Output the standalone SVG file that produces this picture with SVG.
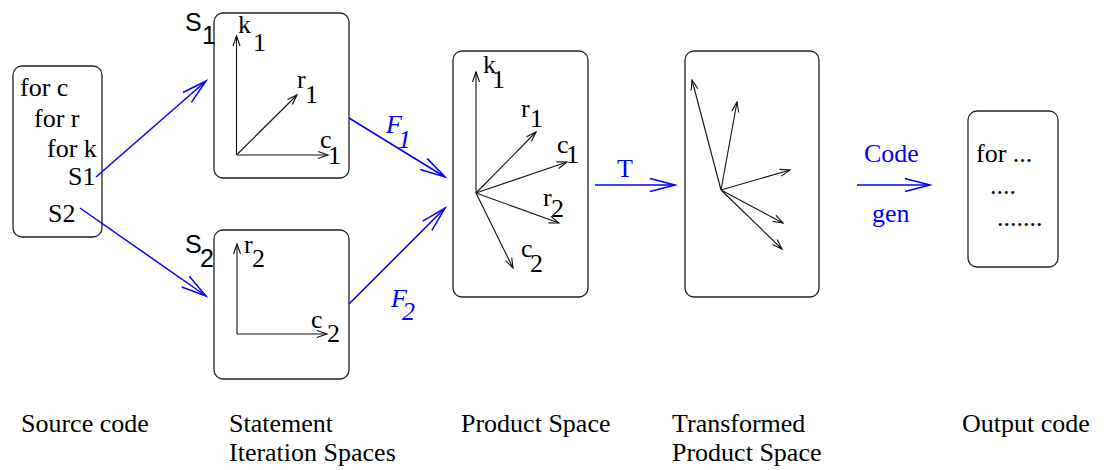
<svg xmlns="http://www.w3.org/2000/svg" width="1107" height="470" viewBox="0 0 1107 470">
  <style>
    .box { fill: none; stroke: #222; stroke-width: 1.3; }
    .t { font-family: "Liberation Serif", "Times New Roman", serif; font-size: 26px; fill: #000; }
    .s { font-family: "Liberation Sans", Arial, sans-serif; font-size: 25px; fill: #000; }
    .blue { fill: #0000ff; }
    .it { font-style: italic; }
    .ax { stroke: #111; stroke-width: 1.1; fill: none; marker-end: url(#ah); }
    .link { stroke: #0000ff; stroke-width: 1.5; fill: none; marker-end: url(#bh); }
  </style>
  <defs>
    <marker id="bh" markerUnits="userSpaceOnUse" viewBox="-28 -9 30 18" markerWidth="30" markerHeight="18" refX="0" refY="0" orient="auto" overflow="visible">
      <path d="M-25,-6.5 L0,0 L-25,6.5" fill="none" stroke="#0000ff" stroke-width="1.5"/>
    </marker>
    <marker id="ah" markerUnits="userSpaceOnUse" viewBox="-12 -5 14 10" markerWidth="14" markerHeight="10" refX="0" refY="0" orient="auto" overflow="visible">
      <path d="M-10,-3.5 L0,0 L-10,3.5" fill="none" stroke="#111" stroke-width="1.1"/>
    </marker>
  </defs>

  <!-- Source code -->
  <g id="source">
    <rect class="box" x="13" y="66" width="89" height="171" rx="9"/>
    <text class="t" x="20" y="96">for c</text>
    <text class="t" x="34" y="127">for r</text>
    <text class="t" x="47" y="157">for k</text>
    <text class="t" x="68" y="185">S1</text>
    <text class="t" x="48" y="222">S2</text>
  </g>

  <!-- Iteration space of S1 -->
  <g id="space-s1">
    <rect class="box" x="214" y="13" width="135" height="165" rx="9"/>
    <text class="s" x="185" y="31">S</text>
    <text class="s" x="202" y="44">1</text>
    <line class="ax" x1="236.5" y1="155" x2="236.5" y2="36"/>
    <line class="ax" x1="236.5" y1="155" x2="328" y2="155"/>
    <line class="ax" x1="236.5" y1="155" x2="297" y2="95"/>
    <text class="t" x="238" y="33">k</text>
    <text class="t" x="253" y="51">1</text>
    <text class="t" x="297" y="88">r</text>
    <text class="t" x="305" y="103">1</text>
    <text class="t" x="320" y="148">c</text>
    <text class="t" x="328" y="164">1</text>
  </g>

  <!-- Iteration space of S2 -->
  <g id="space-s2">
    <rect class="box" x="214" y="230" width="135" height="149" rx="9"/>
    <text class="s" x="185" y="253">S</text>
    <text class="s" x="200" y="267">2</text>
    <line class="ax" x1="237" y1="334" x2="237" y2="244"/>
    <line class="ax" x1="237" y1="334" x2="327" y2="334"/>
    <text class="t" x="244" y="253">r</text>
    <text class="t" x="252" y="267">2</text>
    <text class="t" x="311" y="328">c</text>
    <text class="t" x="327" y="342">2</text>
  </g>

  <!-- Product space -->
  <g id="product-space">
    <rect class="box" x="453" y="51" width="135" height="246" rx="9"/>
    <line class="ax" x1="476" y1="193" x2="476" y2="72"/>
    <line class="ax" x1="476" y1="193" x2="536" y2="132"/>
    <line class="ax" x1="476" y1="193" x2="567" y2="162"/>
    <line class="ax" x1="476" y1="193" x2="559" y2="223"/>
    <line class="ax" x1="476" y1="193" x2="513" y2="268"/>
    <text class="t" x="483" y="73">k</text>
    <text class="t" x="492" y="88">1</text>
    <text class="t" x="521" y="117">r</text>
    <text class="t" x="530" y="127">1</text>
    <text class="t" x="557" y="153">c</text>
    <text class="t" x="566" y="163">1</text>
    <text class="t" x="543" y="206">r</text>
    <text class="t" x="551" y="217">2</text>
    <text class="t" x="521" y="257">c</text>
    <text class="t" x="530" y="272">2</text>
  </g>

  <!-- Transformed product space -->
  <g id="transformed-space">
    <rect class="box" x="685" y="51" width="134" height="246" rx="9"/>
    <line class="ax" x1="721" y1="190" x2="692" y2="80"/>
    <line class="ax" x1="721" y1="190" x2="737" y2="102"/>
    <line class="ax" x1="721" y1="190" x2="790" y2="170"/>
    <line class="ax" x1="721" y1="190" x2="783" y2="223"/>
    <line class="ax" x1="721" y1="190" x2="782" y2="249"/>
  </g>

  <!-- Output code -->
  <g id="output">
    <rect class="box" x="968" y="111" width="90" height="156" rx="9"/>
    <text class="t" x="976" y="162">for ...</text>
    <text class="t" x="990" y="194">....</text>
    <text class="t" x="997" y="226">.......</text>
  </g>

  <!-- Connectors -->
  <g id="connectors">
    <line class="link" x1="96" y1="177" x2="206" y2="81"/>
    <line class="link" x1="80" y1="208" x2="206" y2="296"/>
    <line class="link" x1="349" y1="118" x2="445" y2="177"/>
    <line class="link" x1="349" y1="304" x2="445" y2="208"/>
    <line class="link" x1="595" y1="185" x2="675" y2="185"/>
    <line class="link" x1="857" y1="185" x2="930" y2="185"/>
    <text class="t blue it" x="386" y="133">F</text>
    <text class="t blue it" x="398" y="148">1</text>
    <text class="t blue it" x="391" y="307">F</text>
    <text class="t blue it" x="402" y="320">2</text>
    <text class="t blue" x="617" y="177">T</text>
    <text class="t blue" x="864" y="162">Code</text>
    <text class="t blue" x="872" y="222">gen</text>
  </g>

  <!-- Captions -->
  <g id="captions">
    <text class="t" x="21" y="432">Source code</text>
    <text class="t" x="229" y="432">Statement</text>
    <text class="t" x="229" y="461">Iteration Spaces</text>
    <text class="t" x="461" y="432">Product Space</text>
    <text class="t" x="672" y="432">Transformed</text>
    <text class="t" x="672" y="461">Product Space</text>
    <text class="t" x="962" y="432">Output code</text>
  </g>
</svg>
